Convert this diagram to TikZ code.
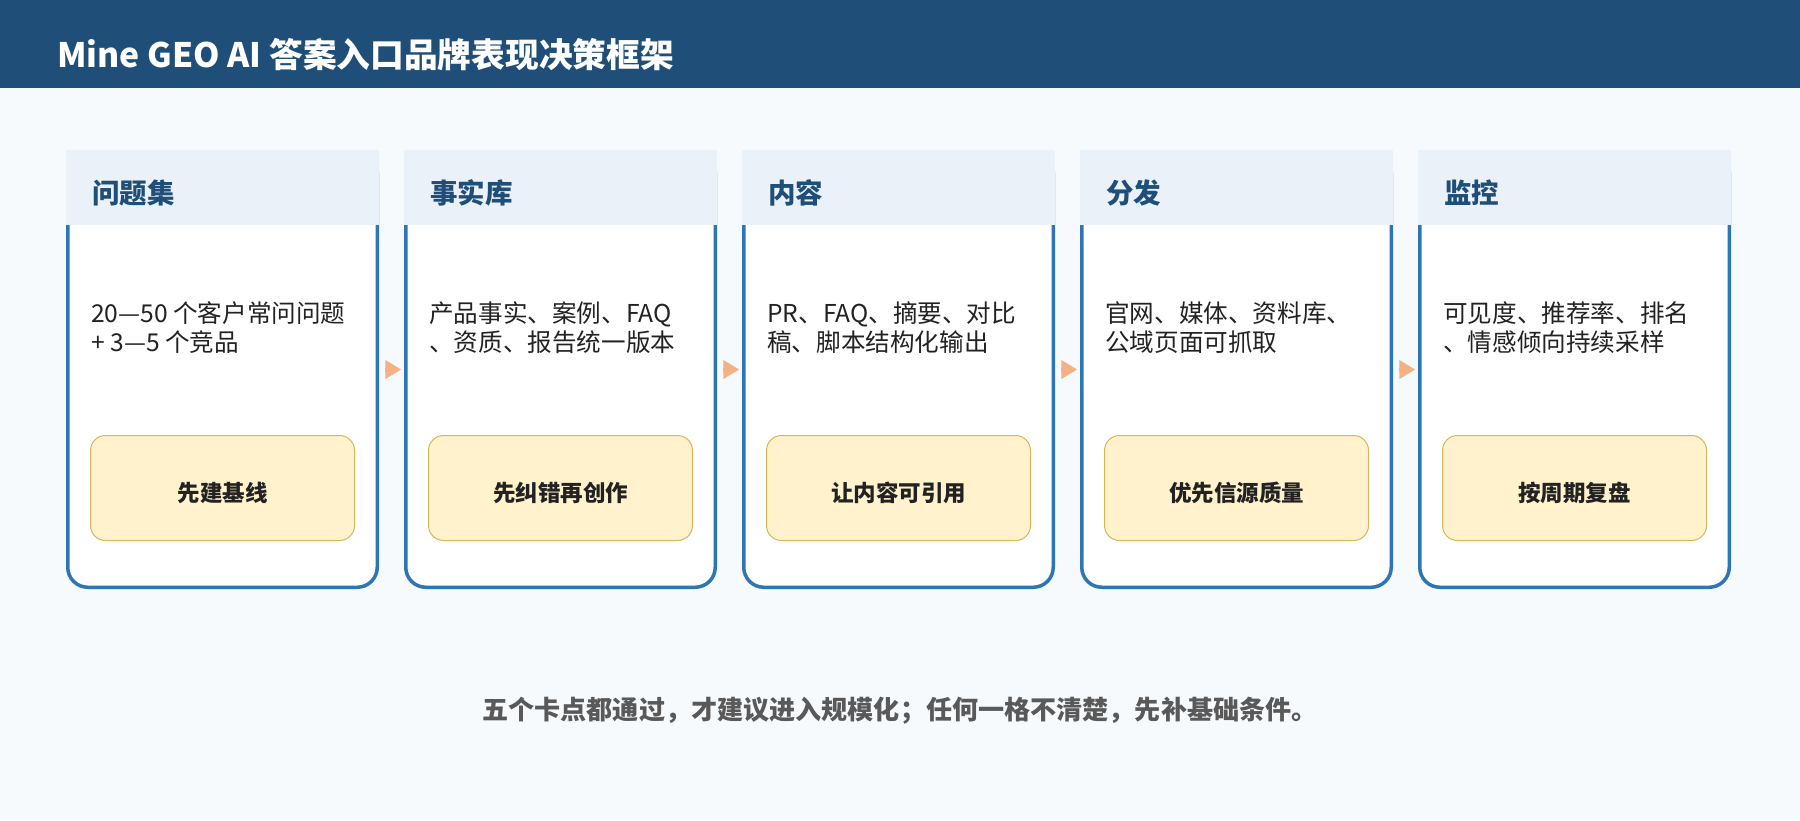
\documentclass[tikz,border=0pt]{standalone}
\usepackage{fontspec}
\setmainfont{Noto Sans CJK SC}
\usetikzlibrary{arrows.meta}
\definecolor{pagebg}{HTML}{F6FAFD}
\definecolor{titlebg}{HTML}{1F4E79}
\definecolor{bandbg}{HTML}{EAF1F8}
\definecolor{cardline}{HTML}{2E75B6}
\definecolor{arrowc}{HTML}{F4B183}
\definecolor{yfill}{HTML}{FFF2CC}
\definecolor{yline}{HTML}{D6B656}
\definecolor{bodyc}{HTML}{222222}
\definecolor{footc}{HTML}{595959}
\tikzset{
  titletext/.style={anchor=west, inner sep=0pt, text=white, font=\bfseries\fontsize{33.7}{38}\selectfont},
  cardbox/.style={draw=cardline, line width=3.5pt, fill=white, rounded corners=20pt,
    minimum width=309.5pt, minimum height=435.5pt, inner sep=0pt},
  bandbox/.style={fill=bandbg, minimum width=313pt, minimum height=75pt, inner sep=0pt},
  headtext/.style={anchor=west, inner sep=0pt, text=titlebg, font=\bfseries\fontsize{27.5}{32}\selectfont},
  bodytext/.style={anchor=base west, inner sep=0pt, text=bodyc, font=\fontsize{24.6}{29}\selectfont},
  ybox/.style={draw=yline, line width=1pt, fill=yfill, rounded corners=15pt,
    minimum width=264pt, minimum height=105pt, inner sep=0pt},
  ytext/.style={inner sep=0pt, text=bodyc, font=\bfseries\fontsize{22.5}{27}\selectfont},
  arr/.style={draw=arrowc, line width=4pt, -{Triangle[length=16pt,width=18pt]},
    shorten <=5.75pt, shorten >=2.75pt},
  foottext/.style={inner sep=0pt, text=footc, font=\bfseries\fontsize{26.1}{30}\selectfont}
}
\begin{document}
\begin{tikzpicture}[x=1pt,y=-1pt]
\useasboundingbox (0,0) rectangle (1800,820);
\fill[pagebg] (0,0) rectangle (1800,820);
\fill[titlebg] (0,0) rectangle (1800,88);
\node[titletext] (title) at (57,55) {Mine GEO AI 答案入口品牌表现决策框架};
\foreach \i/\h/\la/\lb/\k in {
  1/问题集/20—50 个客户常问问题/+ 3—5 个竞品/先建基线,
  2/事实库/产品事实、案例、FAQ/、资质、报告统一版本/先纠错再创作,
  3/内容/PR、FAQ、摘要、对比/稿、脚本结构化输出/让内容可引用,
  4/分发/官网、媒体、资料库、/公域页面可抓取/优先信源质量,
  5/监控/可见度、推荐率、排名/、情感倾向持续采样/按周期复盘}{
  \pgfmathsetmacro{\L}{66+338*(\i-1)}
  \node[cardbox] (c\i) at (\L+156.5,369.5) {};
  \node[bandbox] (h\i) at (\L+156.5,187.5) {};
  \node[headtext] (t\i) at (\L+26,193) {\h};
  \node[bodytext] (p\i) at (\L+25,322) {\la};
  \node[bodytext] (q\i) at (\L+25,351) {\lb};
  \node[ybox] (y\i) at (\L+156.5,488) {};
  \node[ytext] (k\i) at (\L+156.5,493) {\k};
}
\foreach \i/\j in {1/2,2/3,3/4,4/5}{
  \draw[arr] (c\i.east) -- (c\j.west);
}
\node[foottext] (foot) at (900,711) {五个卡点都通过，才建议进入规模化；任何一格不清楚，先补基础条件。};
\end{tikzpicture}
\end{document}
